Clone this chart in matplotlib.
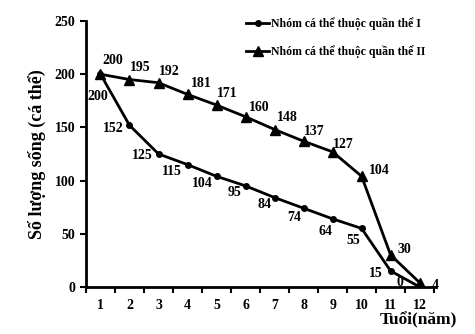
import numpy as np
import matplotlib
matplotlib.use("Agg")
import matplotlib.pyplot as plt

plt.rcParams['font.family'] = ['Liberation Serif', 'DejaVu Serif']
plt.rcParams['font.weight'] = 'bold'

ages = [1, 2, 3, 4, 5, 6, 7, 8, 9, 10, 11, 12]
pop1 = [200, 152, 125, 115, 104, 95, 84, 74, 64, 55, 15, 0]
pop2 = [200, 195, 192, 181, 171, 160, 148, 137, 127, 104, 30, 4]
name1 = "Nhóm cá thể thuộc quần thể I"
name2 = "Nhóm cá thể thuộc quần thể II"

# label offsets in points (dx, dy)
off1 = [(-2, -16), (-12, -2), (-12, -1), (-11, -5), (-10, -5), (-8, -5),
        (-7, -5), (-7, -7), (-5, -9), (-6, -9), (-11, -2), (-14, 3)]
off2 = [(9, 10), (8, 9), (8, 8), (10, 8), (8, 8), (10, 7),
        (9, 9), (8, 7), (8, 5), (13, 4), (10, 4), (11, -2)]

fig = plt.figure(figsize=(4.75, 3.34), dpi=100)
ax = fig.add_axes([0.181, 0.141, 0.733, 0.796])

ax.plot(ages, pop1, color='black', lw=2, marker='o', ms=4, label=name1)
ax.plot(ages, pop2, color='black', lw=2, marker='^', ms=7, label=name2)

for x, y, (dx, dy) in zip(ages, pop1, off1):
    ax.annotate(str(y), (x, y), xytext=(dx, dy), textcoords='offset points',
                ha='center', va='center', fontsize=10, fontweight='bold')
for x, y, (dx, dy) in zip(ages, pop2, off2):
    ax.annotate(str(y), (x, y), xytext=(dx, dy), textcoords='offset points',
                ha='center', va='center', fontsize=10, fontweight='bold')

ax.set_xlim(0.5, 12.5)
ax.set_ylim(0, 250)
ax.set_yticks(np.arange(0, 251, 50))
ax.set_xticks(np.arange(0.5, 13, 1))
ax.set_xticklabels([])
ax.set_xticks(ages, minor=True)
ax.set_xticklabels([str(a) for a in ages], minor=True)
ax.tick_params(axis='x', which='minor', length=0, pad=9, labelsize=10)
ax.tick_params(axis='x', which='major', length=4, width=1.5, direction='out')
ax.tick_params(axis='y', length=4, width=1.5, direction='out', labelsize=10)

for s in ['top', 'right']:
    ax.spines[s].set_visible(False)
for s in ['left', 'bottom']:
    ax.spines[s].set_linewidth(2)

ax.set_ylabel("Số lượng sống (cá thể)", fontsize=13, fontweight='bold', labelpad=6)
fig.text(0.962, 0.018, "Tuổi(năm)", fontsize=12.5, fontweight='bold', ha='right', va='bottom')

ax.legend(loc='upper left', bbox_to_anchor=(0.43, 1.055), frameon=False,
          fontsize=8.5, handlelength=1.9, handletextpad=0.15, labelspacing=1.3)

fig.savefig("out.png", dpi=100)
